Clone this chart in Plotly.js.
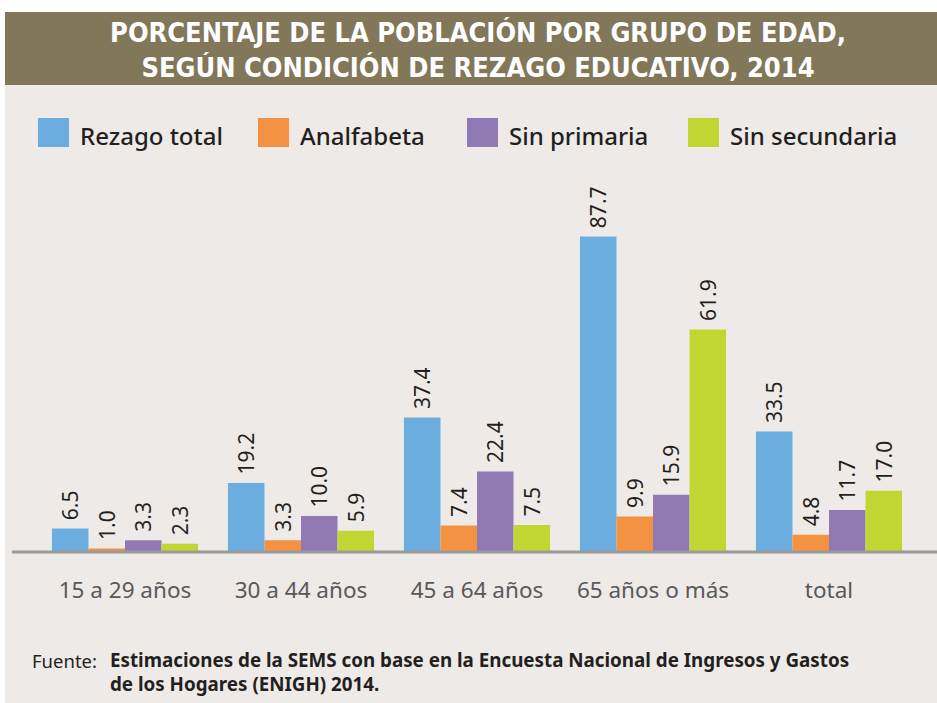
<!DOCTYPE html>
<html><head><meta charset="utf-8">
<script src="https://cdn.plot.ly/plotly-3.0.1.min.js"></script>
<style>
html,body{margin:0;padding:0;background:#ffffff;width:937px;height:703px;overflow:hidden;}
#chart{position:absolute;left:5px;top:12px;width:932px;height:691px;}
</style></head>
<body><div id="chart"></div>
<script>
const categories = ["15 a 29 años", "30 a 44 años", "45 a 64 años", "65 años o más", "total"];
const seriesNames = ["Rezago total", "Analfabeta", "Sin primaria", "Sin secundaria"];
const rezagoTotal = [6.5, 19.2, 37.4, 87.7, 33.5];
const analfabeta = [1.0, 3.3, 7.4, 9.9, 4.8];
const sinPrimaria = [3.3, 10.0, 22.4, 15.9, 11.7];
const sinSecundaria = [2.3, 5.9, 7.5, 61.9, 17.0];
const colors = ["#6AADDE", "#F39240", "#917AB4", "#C2D633"];
const titleText = "PORCENTAJE DE LA POBLACIÓN POR GRUPO DE EDAD,<br>SEGÚN CONDICIÓN DE REZAGO EDUCATIVO, 2014";
const sourceLabel = "Fuente:";
const sourceText = "<b>Estimaciones de la SEMS con base en la Encuesta Nacional de Ingresos y Gastos<br>de los Hogares (ENIGH) 2014.</b>";

const allSeries = [rezagoTotal, analfabeta, sinPrimaria, sinSecundaria];

// page-pixel helpers (div at left 5, top 12)
const L = 32, R = 20, T = 148, B = 151, W = 932, H = 691;
const plotW = W - L - R, plotH = H - T - B;
const px = x => ((x - 5) - L) / plotW;
const py = y => (H - B - (y - 12)) / plotH;

const labelFont = {family: "Noto Sans, Open Sans, sans-serif", size: 21, color: "#231F20"};

const traces = allSeries.map((vals, i) => ({
  type: "bar",
  name: seriesNames[i],
  x: categories,
  y: vals,
  marker: {color: colors[i], line: {width: 0}},
  text: vals.map(v => "\u00A0" + v.toFixed(1)),
  textposition: "outside",
  textangle: -90,
  constraintext: "none",
  cliponaxis: false,
  textfont: labelFont,
  hoverinfo: "skip",
  showlegend: false
}));

const shapes = [
  {type: "rect", xref: "paper", yref: "paper", x0: px(5), x1: px(937), y0: py(85), y1: py(12),
   fillcolor: "#837759", line: {width: 0}, layer: "below"},
  {type: "line", xref: "paper", yref: "paper", x0: px(12), x1: px(937), y0: 0, y1: 0,
   line: {color: "#9B9B9B", width: 3}}
];

const legendX = [38, 258, 467, 688];
const annotations = [];
seriesNames.forEach((n, i) => {
  shapes.push({type: "rect", xref: "paper", yref: "paper",
    x0: px(legendX[i]), x1: px(legendX[i] + 31), y0: py(147), y1: py(118),
    fillcolor: colors[i], line: {width: 0}});
  annotations.push({xref: "paper", yref: "paper", x: px(legendX[i] + 40), y: py(136),
    xanchor: "left", yanchor: "middle", showarrow: false, text: n,
    font: {family: "Noto Sans, Open Sans, sans-serif", size: 24, color: "#231F20", weight: 500}});
});
annotations.push({xref: "paper", yref: "paper", x: px(30), y: py(660), xanchor: "left", yanchor: "middle",
  showarrow: false, text: sourceLabel, font: {family: "Noto Sans, sans-serif", size: 18.5, color: "#231F20"}});
annotations.push({xref: "paper", yref: "paper", x: px(108), y: py(672), xanchor: "left", yanchor: "middle",
  align: "left", showarrow: false, text: sourceText,
  font: {family: "Noto Sans, sans-serif", size: 18.8, color: "#231F20"}});

const layout = {
  width: W, height: H,
  margin: {l: L, r: R, t: T, b: B, pad: 0},
  paper_bgcolor: "#EEEAE7",
  plot_bgcolor: "rgba(0,0,0,0)",
  barmode: "group",
  bargap: 0.17,
  bargroupgap: 0,
  title: {text: titleText, x: (478 - 5) / W, xanchor: "center", xref: "container",
    y: 1 - (42 - 12) / H, yanchor: "middle", yref: "container",
    font: {family: "Liberation Sans Narrow, DejaVu Sans Condensed, sans-serif", size: 27, color: "#FFFFFF", weight: "bold"}},
  xaxis: {type: "category", showgrid: false, zeroline: false, showline: false, ticks: "",
    tickfont: {family: "Noto Sans, sans-serif", size: 22.5, color: "#58595B"}, ticklabelstandoff: 22},
  yaxis: {range: [0, 109], visible: false, showgrid: false, zeroline: false, fixedrange: true},
  shapes: shapes,
  annotations: annotations,
  showlegend: false
};

Plotly.newPlot("chart", traces, layout, {displayModeBar: false, staticPlot: true});
</script></body></html>
